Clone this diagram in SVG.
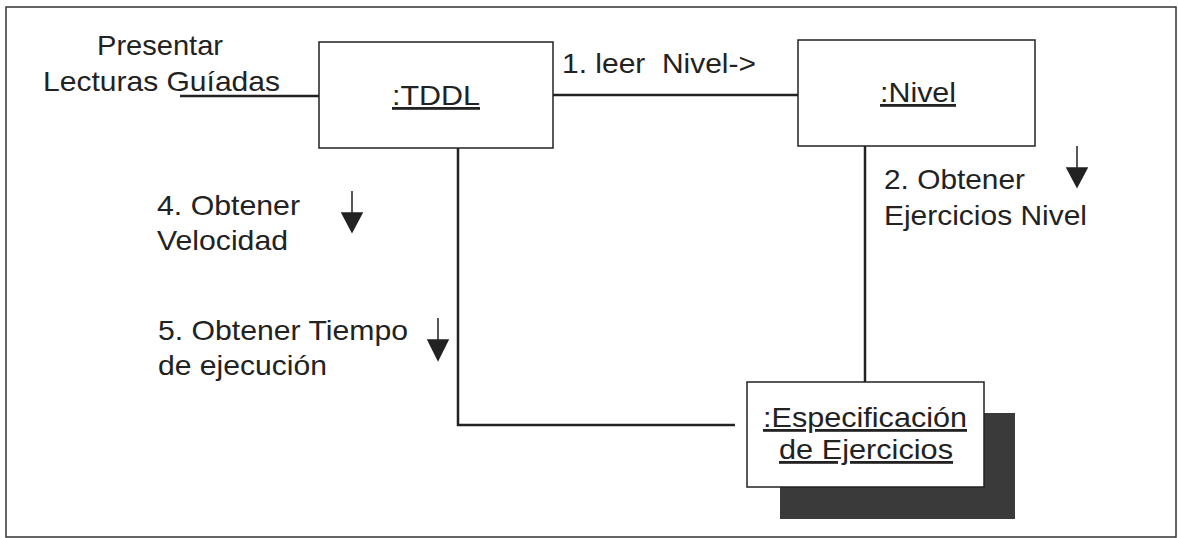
<svg xmlns="http://www.w3.org/2000/svg" width="1178" height="538" viewBox="0 0 1178 538">
<style>
text{font-family:"Liberation Sans",Arial,sans-serif;font-size:28px;fill:#222}
.u{text-decoration:underline}
.box{fill:#fff;stroke:#222;stroke-width:1.5}
.ln{stroke:#222;stroke-width:2.5;fill:none}
.arr{fill:#222;stroke:#222;stroke-width:1.5}
</style>
<rect x="6" y="7" width="1170" height="530" fill="#fff" stroke="#333" stroke-width="1.5"/>
<g id="connectors">
<line class="ln" x1="180" y1="96" x2="319" y2="96"/>
<line class="ln" x1="553" y1="95" x2="798" y2="95"/>
<polyline class="ln" points="458,148 458,425 735,425"/>
<line class="ln" x1="865" y1="146" x2="865" y2="382"/>
</g>
<g id="labels">
<text x="97" y="55" textLength="126" lengthAdjust="spacingAndGlyphs">Presentar</text>
<text x="43" y="91" textLength="237" lengthAdjust="spacingAndGlyphs">Lecturas Guíadas</text>
<text x="562" y="73" textLength="194" lengthAdjust="spacingAndGlyphs" xml:space="preserve">1. leer  Nivel-&gt;</text>
<text x="884" y="189" textLength="141" lengthAdjust="spacingAndGlyphs">2. Obtener</text>
<text x="884" y="225" textLength="203" lengthAdjust="spacingAndGlyphs">Ejercicios Nivel</text>
<text x="157" y="215" textLength="143" lengthAdjust="spacingAndGlyphs">4. Obtener</text>
<text x="157" y="250" textLength="131" lengthAdjust="spacingAndGlyphs">Velocidad</text>
<text x="158" y="340" textLength="250" lengthAdjust="spacingAndGlyphs">5. Obtener Tiempo</text>
<text x="158" y="375" textLength="169" lengthAdjust="spacingAndGlyphs">de ejecución</text>
<path class="arr" d="M1077,146 V169 M1067,168 L1087,168 L1077,187 Z"/>
<path class="arr" d="M352,191 V214 M342,213 L362,213 L352,232 Z"/>
<path class="arr" d="M438,318 V341 M428,340 L448,340 L438,360 Z"/>
</g>
<g id="tddl">
<rect class="box" x="319" y="42" width="234" height="106"/>
<text class="u" x="392" y="105" textLength="88" lengthAdjust="spacingAndGlyphs">:TDDL</text>
</g>
<g id="nivel">
<rect class="box" x="798" y="40" width="237" height="106"/>
<text class="u" x="880" y="102" textLength="76" lengthAdjust="spacingAndGlyphs">:Nivel</text>
</g>
<g id="especificacion">
<rect x="780" y="413" width="235" height="106" fill="#3a3a3a"/>
<rect class="box" x="747" y="382" width="237" height="105"/>
<text class="u" x="763" y="427" textLength="204" lengthAdjust="spacingAndGlyphs">:Especificación</text>
<text class="u" x="779" y="459" textLength="174" lengthAdjust="spacingAndGlyphs">de Ejercicios</text>
</g>
</svg>
